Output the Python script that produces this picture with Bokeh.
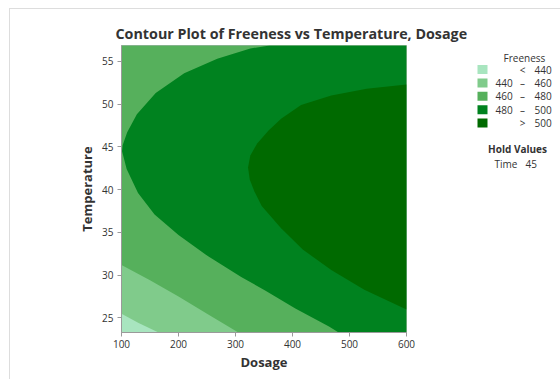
from bokeh.plotting import figure
from bokeh.layouts import row
from bokeh.models import Range1d, FixedTicker
from bokeh.core.properties import value
from bokeh.embed import file_html
from bokeh.resources import INLINE

W, H = 560, 379
# content origin inside the framed page (margin + 1px border)
OX, OY = 10, 9
# plot frame on the page (left, right, top, bottom, px from top-left)
FL, FR, FT, FB = 121, 406, 45, 332
LEG_X = 474  # where the legend column starts on the page

DOSAGE_RANGE = (100, 600)
TEMP_RANGE = (23.3, 56.85)
DOSAGE_TICKS = [100, 200, 300, 400, 500, 600]
TEMP_TICKS = [25, 30, 35, 40, 45, 50, 55]

# Freeness contour lines (Time held at 45), as Dosage / Temperature pairs
C440_DOSAGE = [100, 130, 165]
C440_TEMP = [25.5, 24.4, 23.3]
C460_DOSAGE = [100, 150, 200, 250, 305]
C460_TEMP = [31.2, 29.4, 27.5, 25.5, 23.3]
C480_DOSAGE = [360, 326, 268, 210, 160, 127, 110, 102, 101, 109, 129, 158, 200, 252, 310, 352, 405, 464, 481]
C480_TEMP = [56.85, 56.5, 55.3, 53.6, 51.3, 48.8, 46.7, 45.2, 44.5, 42.4, 39.6, 37.1, 34.7, 32.2, 29.8, 28.2, 26.1, 24.0, 23.3]
C500_DOSAGE = [600, 530, 468, 415, 380, 358, 338, 326, 322, 325, 333, 346, 380, 418, 468, 526, 600]
C500_TEMP = [52.3, 51.8, 51.0, 49.9, 48.3, 46.9, 45.4, 44.0, 42.6, 41.2, 39.8, 38.1, 35.5, 33.0, 30.6, 28.3, 26.0]

BIN_LOW = ["", "440", "460", "480", ""]
BIN_SEP = ["<", "\u2013", "\u2013", "\u2013", ">"]
BIN_HIGH = ["440", "460", "480", "500", "500"]
BIN_COLORS = ["#a8e5bf", "#80cb8b", "#56b05c", "#00821f", "#006a00"]
HOLD_NAME = "Time"
HOLD_VALUE = "45"

FONT = "Open Sans"
TXT = "#333333"
AX = "#9a9a9a"

PW, PH = LEG_X - OX, H - OY
p = figure(width=PW, height=PH,
           x_range=Range1d(*DOSAGE_RANGE), y_range=Range1d(*TEMP_RANGE),
           output_backend="svg", toolbar_location=None,
           min_border_left=FL - OX, min_border_right=LEG_X - FR,
           min_border_top=FT - OY, min_border_bottom=H - FB,
           title="Contour Plot of Freeness vs Temperature, Dosage")
p.grid.visible = False
p.background_fill_color = "white"
p.border_fill_color = "white"
p.outline_line_color = AX

p.title.text_font = FONT
p.title.text_font_size = "14.3px"
p.title.text_font_style = "bold"
p.title.text_color = TXT
p.title.align = "left"
p.title.offset = -6
p.title.standoff = 6

x0, x1 = DOSAGE_RANGE
y0, y1 = TEMP_RANGE

# filled contour bands, painted from the lowest level upward
p.patch([x0, x1, x1, x0], [y0, y0, y1, y1], fill_color=BIN_COLORS[0], line_color=None)
p.patch(C440_DOSAGE + [x1, x1, x0], C440_TEMP + [y0, y1, y1], fill_color=BIN_COLORS[1], line_color=None)
p.patch(C460_DOSAGE + [x1, x1, x0], C460_TEMP + [y0, y1, y1], fill_color=BIN_COLORS[2], line_color=None)
p.patch(C480_DOSAGE + [x1, x1], C480_TEMP + [y0, y1], fill_color=BIN_COLORS[3], line_color=None)
p.patch(C500_DOSAGE, C500_TEMP, fill_color=BIN_COLORS[4], line_color=None)

for ax in (p.xaxis[0], p.yaxis[0]):
    ax.axis_line_color = AX
    ax.major_tick_line_color = AX
    ax.minor_tick_line_color = None
    ax.major_tick_in = 0
    ax.major_tick_out = 4
    ax.major_label_text_font = FONT
    ax.major_label_text_font_size = "10px"
    ax.major_label_text_color = TXT
    ax.axis_label_text_font = FONT
    ax.axis_label_text_font_size = "13px"
    ax.axis_label_text_font_style = "bold"
    ax.axis_label_text_color = TXT

p.xaxis.ticker = FixedTicker(ticks=DOSAGE_TICKS)
p.yaxis.ticker = FixedTicker(ticks=TEMP_TICKS)
p.xaxis.axis_label = "Dosage"
p.yaxis.axis_label = "Temperature"
p.xaxis.major_label_standoff = 3
p.yaxis.major_label_standoff = 4
p.xaxis.axis_label_standoff = 2
p.yaxis.axis_label_standoff = 3

# legend column; its frame lines up with the plot frame, so the y range
# spans the frame's page rows and everything is placed in page pixels
leg = figure(width=W - LEG_X, height=PH,
             x_range=Range1d(LEG_X, W), y_range=Range1d(FB, FT),
             x_axis_location=None, y_axis_location=None,
             output_backend="svg", toolbar_location=None, min_border=0)
leg.grid.visible = False
leg.outline_line_color = None
leg.background_fill_color = "white"
leg.border_fill_color = "white"

n = len(BIN_COLORS)
row_y = [69 + 13.4 * i for i in range(n)]
leg.quad(left=[477] * n, right=[487] * n,
         top=[y - 4.5 for y in row_y], bottom=[y + 4.5 for y in row_y],
         fill_color=BIN_COLORS, line_color=None)

text_kw = dict(text_font=value(FONT), text_font_size="10px", text_color=TXT,
               text_baseline="middle")
lows = [(t, y) for t, y in zip(BIN_LOW, row_y) if t]
leg.text(x=[495] * len(lows), y=[y for _, y in lows], text=[t for t, _ in lows],
         text_align="left", **text_kw)
leg.text(x=[522] * n, y=row_y, text=BIN_SEP, text_align="center", **text_kw)
leg.text(x=[534] * n, y=row_y, text=BIN_HIGH, text_align="left", **text_kw)
leg.text(x=[524], y=[57], text=["Freeness"], text_align="center", **text_kw)
leg.text(x=[517], y=[148], text=["Hold Values"], text_align="center",
         text_font_style="bold", **text_kw)
leg.text(x=[494, 525], y=[163, 163], text=[HOLD_NAME, HOLD_VALUE],
         text_align="left", **text_kw)

layout = row(p, leg, margin=(OY - 1, 0, 0, OX - 1),
             styles={"border-top": "1px solid #dddddd",
                     "border-left": "1px solid #dddddd"})

open("out.html", "w").write(file_html(layout, INLINE))
